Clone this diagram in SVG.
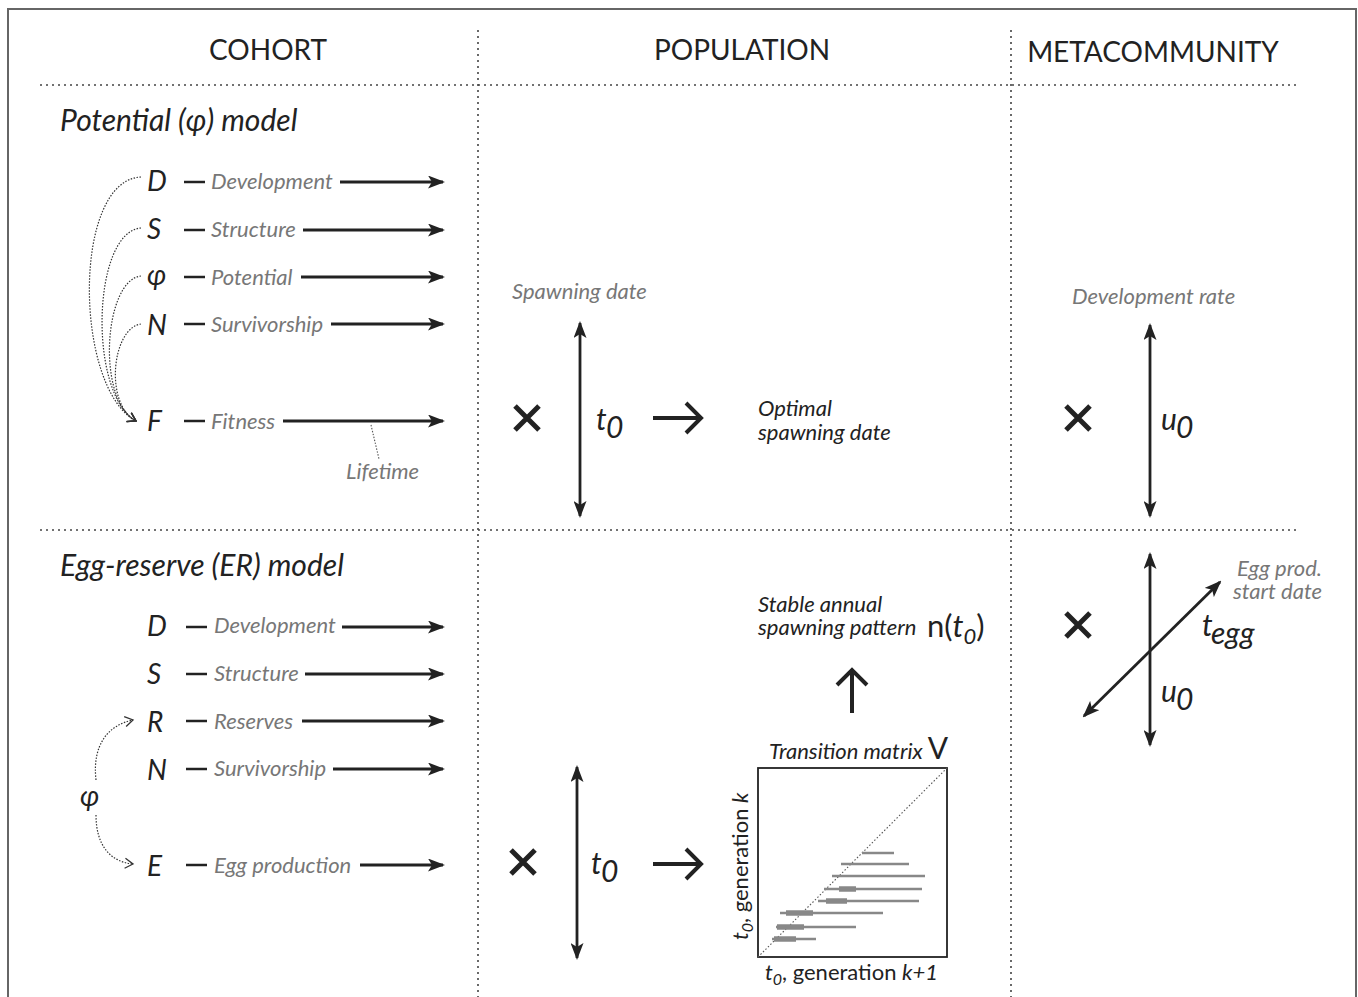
<svg xmlns="http://www.w3.org/2000/svg" width="1358" height="997" viewBox="0 0 1358 997">
<style>
.hdr{font-family:Lato,"Open Sans",sans-serif;font-size:28px;fill:#222}
.title{font-family:Lato,"Open Sans",sans-serif;font-style:italic;font-size:30px;fill:#222}
.var{font-family:Lato,"Open Sans",sans-serif;font-style:italic;font-size:28px;fill:#222}
.lbl{font-family:Lato,"Open Sans",sans-serif;font-style:italic;font-size:22px;fill:#777}
.blk{font-family:Lato,"Open Sans",sans-serif;font-style:italic;font-size:22px;fill:#222}
.sym{font-family:Lato,"Open Sans",sans-serif;font-style:italic;font-size:30px;fill:#222}
.dash{stroke:#222;stroke-width:2.5}
.arr{stroke:#222;stroke-width:2.8;fill:none;marker-end:url(#ah)}
.darr{stroke:#222;stroke-width:2.8;fill:none;marker-end:url(#ah);marker-start:url(#ahs)}
.dot{stroke:#444;stroke-width:1.6;stroke-dasharray:2 4;fill:none}
.curve{stroke:#333;stroke-width:1.2;stroke-dasharray:1.5 1.5;fill:none;marker-end:url(#open)}
.x{stroke:#222;stroke-width:5;stroke-linecap:butt}
.chev{stroke:#222;stroke-width:4;fill:none}
.bar{stroke:#888;stroke-width:2.5}
.tbar{stroke:#888;stroke-width:5.5}
</style>
<defs>
<marker id="ah" viewBox="0 0 17 13" markerWidth="17" markerHeight="13" refX="15" refY="6.5" orient="auto" markerUnits="userSpaceOnUse">
<path d="M0,0 L17,6.5 L0,13 L4,6.5 z" fill="#222"/>
</marker>
<marker id="ahs" viewBox="0 0 17 13" markerWidth="17" markerHeight="13" refX="2" refY="6.5" orient="auto" markerUnits="userSpaceOnUse">
<path d="M17,0 L0,6.5 L17,13 L13,6.5 z" fill="#222"/>
</marker>
<marker id="open" viewBox="0 0 12 12" markerWidth="12" markerHeight="12" refX="10" refY="6" orient="auto" markerUnits="userSpaceOnUse">
<path d="M2,1 L10,6 L2,11" fill="none" stroke="#333" stroke-width="1.3"/>
</marker>
</defs>

<g id="frame">
<path d="M8,997 L8,9 L1356,9 L1356,997" fill="none" stroke="#666" stroke-width="2"/>
<line class="dot" x1="478" y1="30" x2="478" y2="997"/>
<line class="dot" x1="1011" y1="30" x2="1011" y2="997"/>
<line class="dot" x1="40" y1="85" x2="1300" y2="85"/>
<line class="dot" x1="40" y1="530" x2="1300" y2="530"/>
</g>

<g id="headers">
<text class="hdr" x="268" y="60" text-anchor="middle">COHORT</text>
<text class="hdr" x="742" y="60" text-anchor="middle">POPULATION</text>
<text class="hdr" x="1153" y="62" text-anchor="middle">METACOMMUNITY</text>
</g>

<g id="cohort-potential">
<text class="title" x="60" y="131">Potential (φ) model</text>
<text class="var" x="147" y="191">D</text>
<line class="dash" x1="184" y1="182" x2="205" y2="182"/>
<text class="lbl" x="211" y="189">Development</text>
<line class="arr" x1="340" y1="182" x2="443" y2="182"/>

<text class="var" x="147" y="239">S</text>
<line class="dash" x1="184" y1="230" x2="205" y2="230"/>
<text class="lbl" x="211" y="237">Structure</text>
<line class="arr" x1="303" y1="230" x2="443" y2="230"/>

<text class="var" x="147" y="285">φ</text>
<line class="dash" x1="184" y1="277" x2="205" y2="277"/>
<text class="lbl" x="211" y="285">Potential</text>
<line class="arr" x1="301" y1="277" x2="443" y2="277"/>

<text class="var" x="147" y="335">N</text>
<line class="dash" x1="184" y1="324" x2="205" y2="324"/>
<text class="lbl" x="211" y="332">Survivorship</text>
<line class="arr" x1="331" y1="324" x2="443" y2="324"/>

<text class="var" x="147" y="431">F</text>
<line class="dash" x1="184" y1="421" x2="205" y2="421"/>
<text class="lbl" x="211" y="429">Fitness</text>
<line class="arr" x1="283" y1="421" x2="443" y2="421"/>

<line x1="371" y1="425" x2="379" y2="459" stroke="#555" stroke-width="1.1" stroke-dasharray="1.5 1.5"/>
<text class="lbl" x="346" y="479">Lifetime</text>
</g>

<g id="connectors">
<path class="curve" d="M141,177 C72,180 74,388 136,421"/>
<path class="curve" d="M141,228 C92,232 88,394 136,421"/>
<path class="curve" d="M141,276 C104,280 96,400 136,421"/>
<path class="curve" d="M141,324 C112,328 104,404 136,421"/>
<path class="curve" d="M96,780 C92,745 108,725 133,720"/>
<path class="curve" d="M96,815 C96,845 110,862 133,864"/>
</g>

<g id="population-potential">
<text class="lbl" x="512" y="299">Spawning date</text>
<line class="darr" x1="580" y1="323" x2="580" y2="516"/>
<path class="x" d="M515,406 L539,430 M539,406 L515,430"/>
<text class="sym" x="596" y="430">t</text>
<text class="sym" x="606" y="438" font-size="22">0</text>
<path class="chev" d="M653,418 L701,418 M686,403 L701,418 L686,433"/>
<text class="blk" x="758" y="416">Optimal</text>
<text class="blk" x="758" y="440">spawning date</text>
</g>

<g id="meta-potential">
<text class="lbl" x="1072" y="304">Development rate</text>
<line class="darr" x1="1150" y1="325" x2="1150" y2="516"/>
<path class="x" d="M1066,406 L1090,430 M1090,406 L1066,430"/>
<text class="sym" x="1161" y="430">u</text>
<text class="sym" x="1176" y="438" font-size="22">0</text>
</g>

<g id="cohort-er">
<text class="title" x="60" y="576">Egg-reserve (ER) model</text>
<text class="var" x="147" y="636">D</text>
<line class="dash" x1="186" y1="627" x2="207" y2="627"/>
<text class="lbl" x="214" y="633">Development</text>
<line class="arr" x1="342" y1="627" x2="443" y2="627"/>

<text class="var" x="147" y="684">S</text>
<line class="dash" x1="186" y1="674" x2="207" y2="674"/>
<text class="lbl" x="214" y="681">Structure</text>
<line class="arr" x1="305" y1="674" x2="443" y2="674"/>

<text class="var" x="147" y="732">R</text>
<line class="dash" x1="186" y1="721" x2="207" y2="721"/>
<text class="lbl" x="214" y="729">Reserves</text>
<line class="arr" x1="302" y1="721" x2="443" y2="721"/>

<text class="var" x="147" y="780">N</text>
<line class="dash" x1="186" y1="769" x2="207" y2="769"/>
<text class="lbl" x="214" y="776">Survivorship</text>
<line class="arr" x1="333" y1="769" x2="443" y2="769"/>

<text class="var" x="147" y="876">E</text>
<line class="dash" x1="186" y1="865" x2="207" y2="865"/>
<text class="lbl" x="214" y="873">Egg production</text>
<line class="arr" x1="360" y1="865" x2="443" y2="865"/>

<text class="var" x="80" y="806">φ</text>
</g>

<g id="population-er">
<path class="x" d="M511,850 L535,874 M535,850 L511,874"/>
<line class="darr" x1="577" y1="767" x2="577" y2="958"/>
<text class="sym" x="591" y="874">t</text>
<text class="sym" x="601" y="882" font-size="22">0</text>
<path class="chev" d="M653,864 L701,864 M686,849 L701,864 L686,879"/>

<text class="blk" x="758" y="612">Stable annual</text>
<text class="blk" x="758" y="635">spawning pattern</text>
<text x="927" y="637" font-family="Lato,'Open Sans',sans-serif" font-size="31" fill="#222">n(<tspan font-style="italic">t</tspan><tspan font-style="italic" font-size="22" dy="7">0</tspan><tspan dy="-7">)</tspan></text>
<path class="chev" d="M852,713 L852,670 M837,685 L852,670 L867,685"/>

<text class="blk" x="769" y="759" font-size="21">Transition matrix <tspan font-style="normal" font-size="30">V</tspan></text>
<rect x="758" y="768" width="189" height="189" fill="none" stroke="#222" stroke-width="1.8"/>
<line x1="758" y1="957" x2="947" y2="768" stroke="#555" stroke-width="1.1" stroke-dasharray="1.5 2"/>
<line class="bar" x1="862" y1="853" x2="894" y2="853"/>
<line class="bar" x1="841" y1="864" x2="909" y2="864"/>
<line class="bar" x1="832" y1="876" x2="925" y2="876"/>
<line class="bar" x1="824" y1="889" x2="922" y2="889"/>
<line class="tbar" x1="839" y1="889" x2="856" y2="889"/>
<line class="bar" x1="818" y1="901" x2="919" y2="901"/>
<line class="tbar" x1="826" y1="901" x2="847" y2="901"/>
<line class="bar" x1="780" y1="913" x2="883" y2="913"/>
<line class="tbar" x1="786" y1="913" x2="813" y2="913"/>
<line class="bar" x1="776" y1="927" x2="856" y2="927"/>
<line class="tbar" x1="777" y1="927" x2="804" y2="927"/>
<line class="bar" x1="772" y1="939" x2="816" y2="939"/>
<line class="tbar" x1="774" y1="939" x2="796" y2="939"/>

<text x="765" y="980" font-family="Lato,'Open Sans',sans-serif" font-size="22" fill="#222"><tspan font-style="italic">t</tspan><tspan font-style="italic" font-size="16" dy="5">0</tspan><tspan dy="-5">, generation </tspan><tspan font-style="italic">k+1</tspan></text>
<text transform="translate(748,940) rotate(-90)" font-family="Lato,'Open Sans',sans-serif" font-size="22" fill="#222"><tspan font-style="italic">t</tspan><tspan font-style="italic" font-size="16" dy="5">0</tspan><tspan dy="-5">, generation </tspan><tspan font-style="italic">k</tspan></text>
</g>

<g id="meta-er">
<path class="x" d="M1066,613 L1090,637 M1090,613 L1066,637"/>
<line class="darr" x1="1150" y1="554" x2="1150" y2="745"/>
<line class="darr" x1="1084" y1="716" x2="1220" y2="582"/>
<text class="sym" x="1202" y="636">t</text>
<text class="sym" x="1211" y="644" font-size="22">egg</text>
<text class="sym" x="1161" y="702">u</text>
<text class="sym" x="1176" y="710" font-size="22">0</text>
<text class="lbl" x="1322" y="576" text-anchor="end">Egg prod.</text>
<text class="lbl" x="1322" y="599" text-anchor="end">start date</text>
</g>
</svg>
